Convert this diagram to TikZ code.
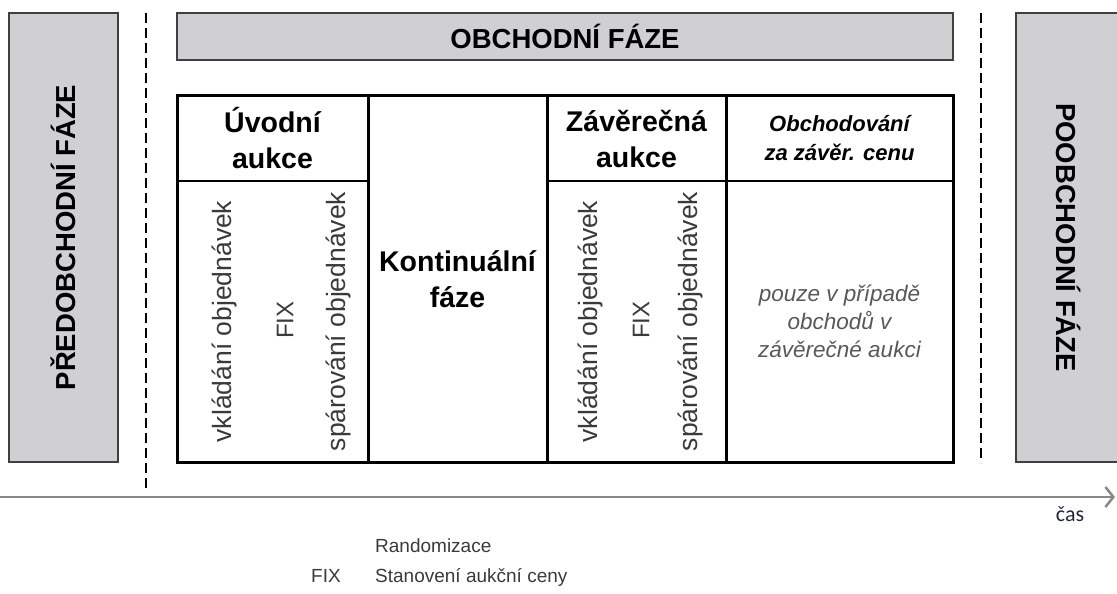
\documentclass[tikz,border=0pt]{standalone}
\usepackage{fontspec}
\setmainfont{Liberation Sans}
\newfontfamily\casfont{Carlito}
\usetikzlibrary{positioning,arrows.meta}
\definecolor{phasegray}{RGB}{208,207,209}
\definecolor{edgegray}{RGB}{64,64,64}
\definecolor{textgray}{RGB}{58,58,58}
\definecolor{notegray}{RGB}{88,88,88}
\definecolor{axisgray}{RGB}{136,136,136}
\definecolor{casblue}{RGB}{31,38,62}

\begin{document}
\begin{tikzpicture}[x=1pt,y=-1pt,
  phase/.style={rectangle,draw=edgegray,line width=1.5pt,fill=phasegray,inner sep=0pt,outer sep=0pt,anchor=north west},
  phaselabel/.style={inner sep=0pt,font=\fontsize{27.5}{33}\selectfont\bfseries},
  cell/.style={rectangle,draw,line width=1.5pt,inner sep=0pt,outer sep=0pt,align=center,anchor=north west},
  head/.style={cell,font=\fontsize{28.5}{36}\selectfont\bfseries},
  rottext/.style={rotate=90,inner sep=0pt,text=textgray,font=\fontsize{26.5}{30}\selectfont},
  fixtext/.style={rottext,font=\fontsize{24}{28}\selectfont},
  divider/.style={dash pattern=on 10pt off 5pt,line width=2.5pt},
  legend/.style={anchor=base west,inner sep=0pt,text=textgray,font=\fontsize{19}{22}\selectfont}]

  \useasboundingbox (0,0) rectangle (1117,594);

  \node[phase,minimum width=109pt,minimum height=449pt] (pre) at (9,13) {};
  \node[phaselabel,rotate=90] (prelabel) at (pre.center) {PŘEDOBCHODNÍ FÁZE};
  \node[phase,minimum width=776pt,minimum height=47pt] (obchod) at (177,13) {};
  \node[phaselabel] (obchodlabel) at (obchod.center) {OBCHODNÍ FÁZE};
  \node[phase,minimum width=106pt,minimum height=449pt] (post) at (1016,13) {};
  \node[phaselabel,rotate=-90] (postlabel) at (post.center) {POOBCHODNÍ FÁZE};

  \node[head,minimum width=191pt,minimum height=85pt] (uvod) at (177,96) {Úvodní\\aukce};
  \node[head,minimum width=179pt,minimum height=366pt] (kont) at (uvod.north east) {Kontinuální\\fáze};
  \node[head,minimum width=179pt,minimum height=85pt] (zav) at (kont.north east) {Závěrečná\\aukce};
  \node[cell,minimum width=227pt,minimum height=85pt,font=\fontsize{22}{29}\selectfont\bfseries\itshape] (obchzc) at (zav.north east) {Obchodování\\za závěr. cenu};
  \node[cell,minimum width=191pt,minimum height=281pt] (uvodbody) at (uvod.south west) {};
  \node[cell,minimum width=179pt,minimum height=281pt] (zavbody) at (zav.south west) {};
  \node[cell,minimum width=227pt,minimum height=281pt,text=notegray,font=\fontsize{22.5}{28}\selectfont\itshape] (obchbody) at (obchzc.south west) {pouze v případě\\obchodů v\\závěrečné aukci};

  \draw[line width=3pt] (uvod.north west) rectangle (obchbody.south east);
  \draw[line width=3pt] (kont.north west) -- (kont.south west);
  \draw[line width=3pt] (kont.north east) -- (kont.south east);
  \draw[line width=3pt] (obchzc.north west) -- (obchbody.south west);

  \node[rottext] (vkl1) at (224,321.5) {vkládání objednávek};
  \node[fixtext] (fix1) at (285,320) {FIX};
  \node[rottext] (spar1) at (338,321.5) {spárování objednávek};
  \node[rottext] (vkl2) at (590,321.5) {vkládání objednávek};
  \node[fixtext] (fix2) at (641,320) {FIX};
  \node[rottext] (spar2) at (690,321.5) {spárování objednávek};

  \coordinate (ltop) at (146,13);
  \coordinate (lbot) at (146,492);
  \coordinate (rtop) at (981,13);
  \coordinate (rbot) at (981,463);
  \draw[divider] (ltop) -- (lbot);
  \draw[divider] (rtop) -- (rbot);

  \coordinate (tstart) at (0,497);
  \coordinate (tend) at (1115,497);
  \draw[axisgray,line width=2.5pt,-{Straight Barb[length=8pt,width=20pt]}] (tstart) -- (tend);
  \node[anchor=base,inner sep=0pt,text=casblue,font=\casfont\fontsize{22}{26}\selectfont] (cas) at (1070,521) {čas};

  \node[legend] (legfix) at (311,582) {FIX};
  \node[legend] (legstan) at (375,582) {Stanovení aukční ceny};
  \node[legend] (legrand) at ([yshift=30pt]legstan.base west) {Randomizace};

\end{tikzpicture}
\end{document}
